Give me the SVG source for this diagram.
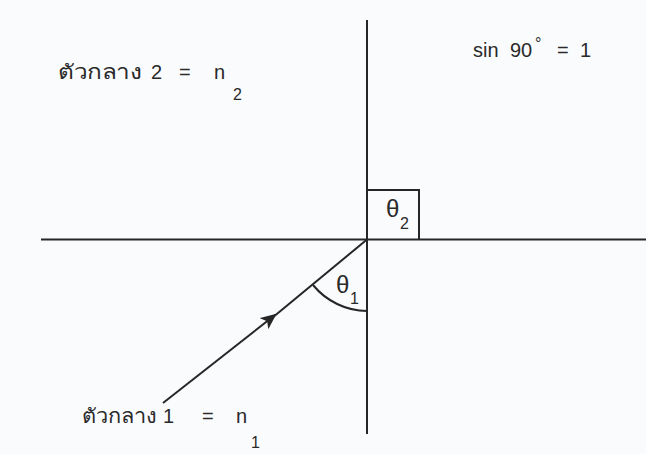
<svg xmlns="http://www.w3.org/2000/svg" width="646" height="454" viewBox="0 0 646 454">
<style>
.ln{stroke:#262626;stroke-width:2;fill:none}
.t{font-family:"Liberation Sans","Noto Sans",sans-serif;fill:#2a2a2a}
.lb{font-size:20px}
.sub{font-size:16px}
.th{font-size:24px}
</style>
<defs>
<marker id="ah" viewBox="0 0 16 14" refX="14" refY="7" markerWidth="16" markerHeight="14" markerUnits="userSpaceOnUse" orient="auto">
<path d="M0,0 L16,7 L0,14 L4,7 Z" fill="#262626"/>
</marker>
</defs>
<rect width="646" height="454" fill="#fafbfd"/>
<g id="connectors">
<line class="ln" x1="367" y1="20" x2="367" y2="434"/>
<line class="ln" x1="41" y1="239.5" x2="646" y2="239.5"/>
<line class="ln" x1="163" y1="403" x2="275" y2="315" marker-end="url(#ah)"/>
<line class="ln" x1="272" y1="318" x2="367" y2="239.5"/>
<path class="ln" d="M313,285 A71,71 0 0 0 367,311"/>
<polyline class="ln" points="367,190 419,190 419,239.5"/>
</g>
<g id="medium2">
<text class="t lb" x="58" y="79" textLength="84" lengthAdjust="spacingAndGlyphs">ตัวกลาง</text>
<text class="t lb" x="151" y="79">2</text>
<text class="t lb" x="179" y="79">=</text>
<text class="t lb" x="214" y="79">n</text>
<text class="t sub" x="233" y="100">2</text>
</g>
<g id="sin90">
<text class="t lb" x="473" y="57">sin</text>
<text class="t lb" x="510" y="57">90</text>
<text class="t sub" x="535" y="49">°</text>
<text class="t lb" x="557" y="57">=</text>
<text class="t lb" x="580" y="57">1</text>
</g>
<g id="medium1">
<text class="t lb" x="82" y="423" textLength="75" lengthAdjust="spacingAndGlyphs">ตัวกลาง</text>
<text class="t lb" x="163" y="423">1</text>
<text class="t lb" x="202" y="423">=</text>
<text class="t lb" x="236" y="423">n</text>
<text class="t sub" x="251" y="448">1</text>
</g>
<g id="theta1">
<text class="t th" x="336" y="293">θ</text>
<text class="t sub" x="350" y="304">1</text>
</g>
<g id="theta2">
<text class="t th" x="386" y="217">θ</text>
<text class="t sub" x="400" y="229">2</text>
</g>
</svg>
